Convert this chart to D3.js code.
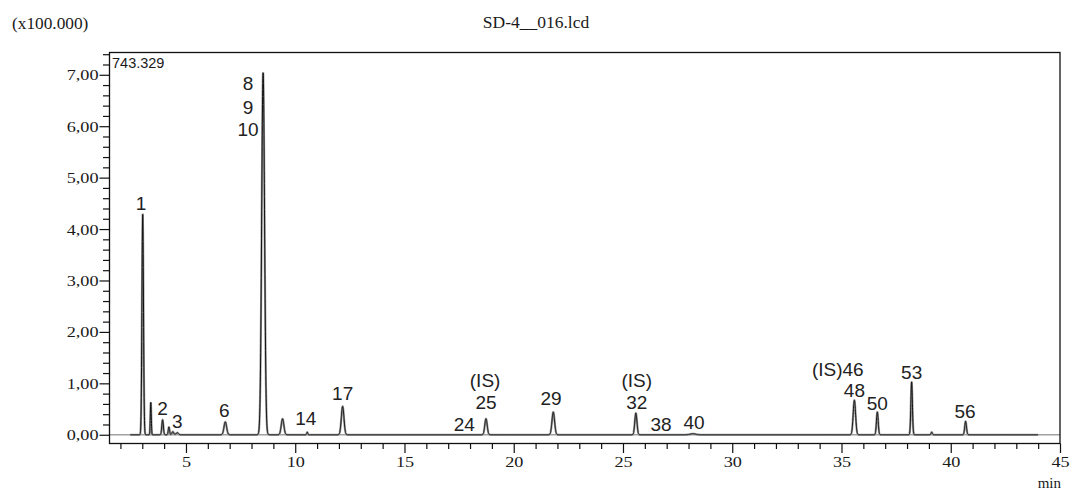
<!DOCTYPE html>
<html>
<head>
<meta charset="utf-8">
<script src="https://cdn.jsdelivr.net/npm/d3@7/dist/d3.min.js"></script>
<style>
  html, body { margin: 0; padding: 0; background: #fff; }
  svg { display: block; }
</style>
</head>
<body>
<svg id="chart" width="1072" height="492"></svg>
<script>
// ---------- DATA ----------
const chartTitle = "SD-4__016.lcd";
const yScaleNote = "(x100.000)";
const yMaxLabel = "743.329";
const xUnit = "min";

// detected peaks: retention time (min), height (x100.000), width sigma (min)
const peakTimes   = [3.02, 3.39, 3.93, 4.22, 4.40, 4.60, 6.80, 8.53, 8.62, 9.42, 10.55, 12.17, 18.73, 21.81, 25.59, 28.20, 35.59, 36.64, 38.21, 39.13, 40.68];
const peakHeights = [4.29, 0.63, 0.29, 0.15, 0.06, 0.04, 0.25, 7.04, 0.06, 0.31, 0.05, 0.55, 0.31, 0.44, 0.42, 0.02, 0.67, 0.44, 1.03, 0.05, 0.26];
const peakWidths  = [0.035, 0.022, 0.035, 0.03, 0.04, 0.05, 0.06, 0.065, 0.03, 0.06, 0.025, 0.06, 0.055, 0.06, 0.05, 0.12, 0.055, 0.04, 0.035, 0.03, 0.04];
const traceStart = 2.45, traceEnd = 44.0;

// peak labels: text, time, level (x100.000) of label centre
const labelTexts  = ["1", "2", "3", "6", "8", "9", "10", "14", "17", "24", "(IS)", "25", "29", "(IS)", "32", "38", "40", "(IS)46", "48", "50", "53", "56"];
const labelTimes  = [2.94, 3.93, 4.60, 6.75, 7.84, 7.84, 7.84, 10.48, 12.17, 17.74, 18.69, 18.73, 21.71, 25.63, 25.63, 26.74, 28.25, 34.83, 35.59, 36.64, 38.21, 40.65];
const labelLevels = [4.51, 0.51, 0.26, 0.47, 6.83, 6.38, 5.95, 0.32, 0.81, 0.21, 1.06, 0.63, 0.71, 1.06, 0.63, 0.21, 0.25, 1.28, 0.86, 0.62, 1.22, 0.45];

// axes
const xDomain = [1.5, 45];
const yDomain = [-0.17, 7.43329];
const xMinorTicks = d3.range(2, 46, 1);
const xMajorTicks = [5, 10, 15, 20, 25, 30, 35, 40, 45];
const yMinorTicks = d3.range(0, 38, 1).map(i => +(i * 0.2).toFixed(1));
const yMajorTicks = [0, 1, 2, 3, 4, 5, 6, 7];

// ---------- LAYOUT ----------
const L = 109.5, R = 1060, T = 52.5, B = 443.5;
const svg = d3.select("#chart");

const x = d3.scaleLinear().domain(xDomain).range([L, R]);
const y = d3.scaleLinear().domain(yDomain).range([B, T]);

const serif = "'Liberation Serif', 'Times New Roman', serif";
const sans = "'Liberation Sans', Arial, sans-serif";
const ink = "#1a1a1a";

// header texts
svg.append("text").attr("x", 12).attr("y", 29)
  .attr("font-family", serif).attr("font-size", 17.3).attr("fill", ink)
  .text(yScaleNote);
svg.append("text").attr("x", 536).attr("y", 28).attr("text-anchor", "middle")
  .attr("font-family", serif).attr("font-size", 17.5).attr("fill", ink)
  .text(chartTitle);

// zero line (grey)
svg.append("line")
  .attr("x1", L).attr("x2", R).attr("y1", y(0)).attr("y2", y(0))
  .attr("stroke", "#a0a0a0").attr("stroke-width", 1.4);

// trace
const step = 0.004;
const times = d3.range(traceStart, traceEnd + step / 2, step);
const signal = t => {
  let s = 0;
  for (let i = 0; i < peakTimes.length; i++) {
    const d = (t - peakTimes[i]) / peakWidths[i];
    if (Math.abs(d) < 8) s += peakHeights[i] * Math.exp(-0.5 * d * d);
  }
  return s;
};
const pts = times.map(t => [t, signal(t)]);
const line = d3.line().x(d => x(d[0])).y(d => y(d[1]));

svg.append("path").datum(pts)
  .attr("d", line).attr("fill", "none")
  .attr("stroke", "#9a9a9a").attr("stroke-width", 2.2);
svg.append("path").datum(pts)
  .attr("d", line).attr("fill", "none")
  .attr("stroke", "#111").attr("stroke-width", 1);

// frame
svg.append("rect").attr("x", L).attr("y", T).attr("width", R - L).attr("height", B - T)
  .attr("fill", "none").attr("stroke", "#111").attr("stroke-width", 1.3);

// y axis
const fmtY = v => d3.format(".2f")(v).replace(".", ",");
const yAxis = d3.axisLeft(y).tickValues(yMinorTicks).tickSize(6.5).tickSizeOuter(0)
  .tickFormat(v => yMajorTicks.includes(Math.round(v * 10) / 10) ? fmtY(v) : "");
const gy = svg.append("g").attr("transform", `translate(${L},0)`).call(yAxis);
gy.select(".domain").remove();
gy.selectAll(".tick line").attr("stroke", "#111").attr("stroke-width", 1.2)
  .attr("x2", d => yMajorTicks.includes(Math.round(d * 10) / 10) ? -10 : -6.5);
gy.selectAll(".tick text").attr("x", -11).attr("dy", "0.36em")
  .attr("font-family", serif).attr("font-size", 14).attr("fill", ink);

// x axis
const xAxis = d3.axisBottom(x).tickValues(xMinorTicks).tickSize(5.5).tickSizeOuter(0)
  .tickFormat(v => xMajorTicks.includes(v) ? String(v) : "");
const gx = svg.append("g").attr("transform", `translate(0,${B})`).call(xAxis);
gx.select(".domain").remove();
gx.selectAll(".tick line").attr("stroke", "#111").attr("stroke-width", 1.2)
  .attr("y2", d => xMajorTicks.includes(d) ? 9.5 : 5.5);
gx.selectAll(".tick text").attr("y", 14).attr("dy", "0.71em")
  .attr("font-family", serif).attr("font-size", 14).attr("fill", ink);

// stretch axis tick labels horizontally (as in the reference print)
svg.selectAll(".tick text").each(function () {
  const w = this.getComputedTextLength();
  if (w > 0) d3.select(this).attr("textLength", w * 1.3).attr("lengthAdjust", "spacingAndGlyphs");
});

// x unit
svg.append("text").attr("x", 1061).attr("y", 488).attr("text-anchor", "end")
  .attr("font-family", serif).attr("font-size", 15).attr("fill", ink)
  .text(xUnit);

// max label
svg.append("text").attr("x", 112).attr("y", 68)
  .attr("font-family", sans).attr("font-size", 14.5).attr("fill", ink)
  .text(yMaxLabel);

// peak labels
svg.append("g").selectAll("text")
  .data(labelTexts.map((t, i) => ({ t, time: labelTimes[i], lvl: labelLevels[i] })))
  .join("text")
  .attr("x", d => x(d.time)).attr("y", d => y(d.lvl)).attr("dy", "0.36em")
  .attr("text-anchor", "middle")
  .attr("font-family", sans).attr("font-size", 19).attr("fill", "#222")
  .text(d => d.t);
</script>
</body>
</html>
